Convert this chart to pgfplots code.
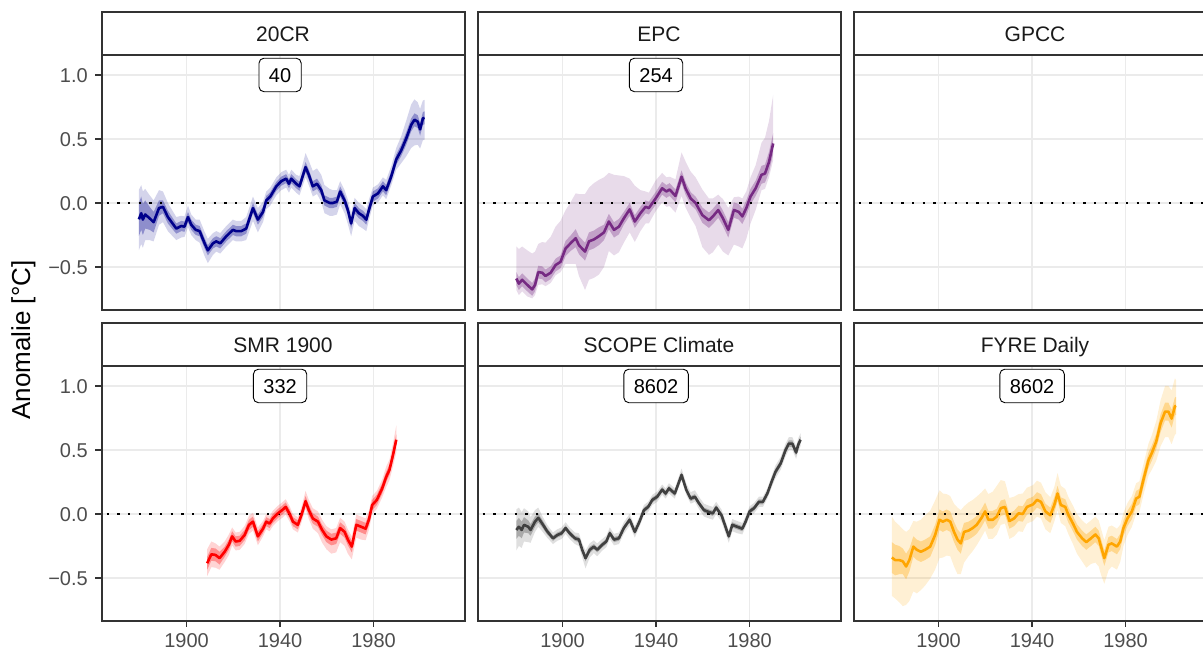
\documentclass[border=0pt]{standalone}
\usepackage{pgfplots}
\pgfplotsset{compat=1.18}
\usepgfplotslibrary{fillbetween}
\usepackage{pgfplotstable}
\usepackage{fontspec}
\setmainfont{Liberation Sans}

\definecolor{c20}{RGB}{0,0,139}
\definecolor{cepc}{RGB}{118,42,131}
\definecolor{csmr}{RGB}{255,0,0}
\definecolor{cscope}{RGB}{64,64,64}
\definecolor{cfyre}{RGB}{255,165,0}
\definecolor{g20}{RGB}{51,51,51}
\definecolor{g30}{RGB}{77,77,77}
\definecolor{g92}{RGB}{235,235,235}
\definecolor{g10}{RGB}{26,26,26}

% columns: x = year, m = mean, a = inner half width, u/d = outer band above/below
\pgfplotstableread{
x m a u d
1879.6 -0.128 0.13 0.23 0.24
1880.6 -0.08 0.13 0.22 0.24
1881.3 -0.13 0.12 0.22 0.22
1882.3 -0.09 0.11 0.2 0.2
1884.2 -0.12 0.09 0.18 0.17
1885.9 -0.15 0.08 0.17 0.15
1888.2 -0.04 0.06 0.14 0.13
1889.9 -0.03 0.05 0.12 0.12
1892.0 -0.11 0.05 0.11 0.11
1895.6 -0.20 0.04 0.09 0.09
1897.7 -0.18 0.04 0.08 0.09
1899.1 -0.185 0.04 0.08 0.08
1900.6 -0.11 0.04 0.09 0.08
1902.0 -0.17 0.04 0.08 0.08
1903.9 -0.21 0.04 0.08 0.08
1905.6 -0.22 0.04 0.09 0.09
1907.7 -0.315 0.04 0.09 0.1
1909.1 -0.37 0.04 0.09 0.1
1911.3 -0.315 0.04 0.08 0.09
1912.7 -0.30 0.04 0.08 0.08
1914.4 -0.315 0.04 0.08 0.08
1917.0 -0.26 0.04 0.08 0.08
1919.8 -0.21 0.04 0.08 0.08
1921.2 -0.22 0.04 0.08 0.08
1923.4 -0.22 0.04 0.08 0.08
1925.5 -0.20 0.04 0.09 0.09
1928.4 -0.04 0.04 0.09 0.1
1930.5 -0.13 0.04 0.09 0.1
1932.7 -0.07 0.04 0.08 0.08
1934.1 0.02 0.035 0.07 0.07
1935.8 0.05 0.035 0.07 0.07
1938.4 0.13 0.035 0.07 0.07
1940.5 0.17 0.035 0.07 0.07
1942.6 0.19 0.035 0.07 0.07
1943.8 0.15 0.035 0.07 0.07
1944.8 0.19 0.035 0.07 0.07
1946.9 0.15 0.035 0.07 0.07
1948.3 0.13 0.035 0.08 0.07
1950.9 0.28 0.04 0.11 0.08
1952.3 0.22 0.04 0.11 0.08
1954.0 0.13 0.04 0.12 0.08
1955.8 0.15 0.04 0.12 0.08
1957.6 0.10 0.04 0.12 0.09
1959.0 0.02 0.04 0.12 0.1
1961.2 0.00 0.04 0.11 0.1
1962.6 0.00 0.04 0.1 0.1
1964.3 0.01 0.04 0.09 0.1
1965.7 0.09 0.04 0.08 0.1
1967.6 0.02 0.04 0.08 0.1
1969.0 -0.055 0.04 0.08 0.11
1970.4 -0.16 0.04 0.08 0.1
1971.9 -0.04 0.04 0.08 0.1
1973.7 -0.08 0.04 0.08 0.1
1975.4 -0.10 0.04 0.08 0.1
1976.9 -0.13 0.04 0.08 0.09
1978.0 -0.055 0.04 0.08 0.08
1979.7 0.05 0.04 0.07 0.07
1981.9 0.075 0.04 0.07 0.07
1984.0 0.13 0.04 0.07 0.07
1985.4 0.10 0.04 0.08 0.07
1987.6 0.21 0.04 0.08 0.07
1989.7 0.34 0.04 0.09 0.08
1991.8 0.41 0.045 0.11 0.1
1994.0 0.505 0.05 0.14 0.14
1996.1 0.61 0.05 0.16 0.18
1997.5 0.65 0.05 0.16 0.2
1998.9 0.635 0.05 0.15 0.18
1999.9 0.575 0.05 0.16 0.15
2001.1 0.66 0.05 0.14 0.17
2001.8 0.665 0.05 0.14 0.17
}\tabTwenty

\pgfplotstableread{
x m a u d
1880.2 -0.59 0.05 0.25 0.09
1881.3 -0.63 0.05 0.27 0.09
1882.7 -0.60 0.05 0.26 0.09
1884.9 -0.64 0.05 0.27 0.09
1887.0 -0.675 0.05 0.28 0.07
1888.2 -0.64 0.05 0.26 0.08
1889.6 -0.54 0.05 0.22 0.1
1891.3 -0.545 0.05 0.24 0.09
1892.7 -0.57 0.05 0.26 0.08
1894.9 -0.545 0.05 0.28 0.08
1897.0 -0.485 0.05 0.3 0.08
1899.1 -0.46 0.05 0.32 0.08
1901.3 -0.355 0.06 0.3 0.12
1903.4 -0.315 0.06 0.32 0.16
1905.6 -0.275 0.07 0.35 0.2
1907.0 -0.33 0.07 0.4 0.24
1909.6 -0.38 0.07 0.45 0.3
1911.3 -0.30 0.07 0.42 0.3
1913.4 -0.285 0.07 0.44 0.3
1915.5 -0.26 0.07 0.44 0.3
1917.7 -0.23 0.06 0.43 0.27
1919.8 -0.145 0.06 0.38 0.23
1922.0 -0.21 0.06 0.43 0.2
1924.1 -0.185 0.06 0.4 0.2
1926.2 -0.12 0.05 0.33 0.19
1928.7 -0.05 0.05 0.24 0.18
1930.9 -0.145 0.05 0.28 0.16
1933.3 -0.08 0.05 0.18 0.14
1935.5 -0.03 0.05 0.12 0.13
1936.9 -0.04 0.05 0.12 0.12
1939.8 0.035 0.05 0.14 0.1
1942.6 0.115 0.05 0.12 0.11
1944.4 0.09 0.05 0.11 0.12
1945.8 0.105 0.05 0.1 0.13
1948.3 0.055 0.05 0.13 0.13
1950.9 0.205 0.05 0.19 0.15
1952.6 0.115 0.05 0.21 0.15
1954.8 0.035 0.05 0.21 0.15
1956.9 0.0 0.05 0.2 0.18
1959.8 -0.095 0.06 0.2 0.25
1962.6 -0.135 0.06 0.17 0.27
1964.3 -0.105 0.06 0.14 0.28
1966.6 -0.055 0.06 0.12 0.27
1968.6 -0.12 0.06 0.15 0.26
1970.9 -0.21 0.06 0.17 0.2
1973.3 -0.055 0.06 0.1 0.27
1975.4 -0.07 0.06 0.12 0.27
1976.9 -0.105 0.06 0.14 0.25
1978.6 -0.04 0.06 0.13 0.24
1980.4 0.05 0.06 0.15 0.21
1982.6 0.115 0.06 0.18 0.17
1985.1 0.22 0.07 0.25 0.12
1986.6 0.23 0.07 0.28 0.12
1988.3 0.32 0.08 0.32 0.12
1990.1 0.465 0.08 0.38 0.13
}\tabEPC

\pgfplotstableread{
x m a u d
1908.8 -0.385 0.05 0.11 0.1
1910.6 -0.315 0.05 0.1 0.1
1912.4 -0.32 0.05 0.09 0.1
1914.1 -0.345 0.05 0.09 0.09
1916.3 -0.295 0.04 0.08 0.08
1918.1 -0.24 0.04 0.08 0.08
1919.5 -0.175 0.04 0.07 0.07
1921.0 -0.215 0.04 0.07 0.07
1922.7 -0.21 0.04 0.07 0.07
1924.8 -0.165 0.04 0.07 0.07
1926.7 -0.085 0.04 0.07 0.07
1928.4 -0.06 0.04 0.07 0.07
1930.5 -0.175 0.04 0.07 0.07
1932.7 -0.115 0.035 0.06 0.06
1934.1 -0.06 0.035 0.06 0.06
1935.5 -0.075 0.035 0.06 0.06
1936.9 -0.035 0.035 0.06 0.06
1939.1 0.005 0.035 0.06 0.06
1940.9 0.03 0.035 0.06 0.06
1942.4 0.055 0.035 0.06 0.06
1944.1 0.0 0.035 0.06 0.06
1945.5 -0.06 0.035 0.06 0.06
1947.6 -0.085 0.035 0.06 0.06
1949.1 -0.01 0.035 0.06 0.06
1950.9 0.1 0.04 0.08 0.06
1952.3 0.03 0.04 0.08 0.07
1954.0 -0.035 0.04 0.08 0.08
1956.2 -0.06 0.04 0.08 0.09
1958.0 -0.125 0.04 0.08 0.1
1959.8 -0.175 0.045 0.08 0.1
1961.9 -0.2 0.045 0.08 0.11
1964.0 -0.19 0.045 0.08 0.11
1965.7 -0.11 0.045 0.08 0.11
1967.6 -0.14 0.045 0.08 0.11
1969.0 -0.2 0.045 0.08 0.11
1970.7 -0.255 0.045 0.08 0.1
1972.6 -0.085 0.045 0.08 0.1
1974.7 -0.1 0.045 0.08 0.1
1976.6 -0.115 0.045 0.08 0.09
1978.0 -0.045 0.04 0.07 0.08
1979.4 0.07 0.04 0.07 0.07
1981.4 0.11 0.04 0.07 0.07
1983.7 0.2 0.04 0.07 0.07
1985.4 0.29 0.04 0.08 0.08
1986.8 0.345 0.04 0.08 0.08
1988.3 0.46 0.04 0.09 0.09
1989.7 0.58 0.04 0.11 0.1
}\tabSMR

\pgfplotstableread{
x m a u d
1880.2 -0.125 0.07 0.16 0.16
1881.3 -0.1 0.07 0.15 0.15
1882.5 -0.125 0.065 0.14 0.14
1883.5 -0.085 0.06 0.13 0.13
1885.3 -0.1 0.05 0.12 0.12
1886.3 -0.125 0.045 0.1 0.1
1888.2 -0.06 0.04 0.09 0.08
1889.6 -0.03 0.035 0.08 0.07
1891.3 -0.075 0.03 0.06 0.06
1893.4 -0.135 0.025 0.05 0.05
1895.9 -0.19 0.02 0.045 0.045
1897.7 -0.165 0.02 0.045 0.045
1899.6 -0.15 0.02 0.045 0.045
1901.3 -0.11 0.02 0.045 0.045
1903.0 -0.15 0.02 0.045 0.045
1905.3 -0.19 0.02 0.045 0.045
1907.0 -0.2 0.02 0.05 0.05
1908.4 -0.28 0.02 0.05 0.06
1909.8 -0.345 0.025 0.06 0.08
1911.6 -0.28 0.025 0.05 0.06
1913.4 -0.255 0.02 0.05 0.05
1914.8 -0.28 0.02 0.05 0.05
1917.0 -0.24 0.02 0.045 0.045
1918.7 -0.215 0.02 0.045 0.045
1920.2 -0.15 0.02 0.045 0.045
1922.0 -0.2 0.02 0.045 0.045
1924.1 -0.19 0.02 0.045 0.045
1926.2 -0.11 0.02 0.045 0.045
1928.7 -0.045 0.02 0.045 0.045
1930.9 -0.14 0.02 0.045 0.045
1932.9 -0.06 0.02 0.04 0.04
1934.8 0.03 0.02 0.04 0.04
1936.6 0.055 0.02 0.04 0.04
1938.4 0.11 0.02 0.04 0.04
1940.5 0.135 0.02 0.04 0.04
1942.6 0.19 0.02 0.04 0.04
1944.1 0.16 0.02 0.04 0.04
1945.5 0.2 0.02 0.04 0.04
1948.0 0.16 0.02 0.04 0.04
1950.9 0.305 0.02 0.05 0.04
1952.9 0.19 0.02 0.05 0.04
1954.8 0.12 0.02 0.05 0.04
1956.6 0.135 0.02 0.05 0.04
1958.3 0.085 0.02 0.05 0.045
1960.5 0.03 0.02 0.05 0.05
1962.6 0.015 0.02 0.05 0.05
1964.3 0.005 0.02 0.05 0.05
1965.7 0.05 0.02 0.045 0.05
1968.0 -0.01 0.02 0.045 0.05
1969.7 -0.1 0.02 0.045 0.05
1971.1 -0.175 0.02 0.045 0.05
1972.6 -0.085 0.02 0.045 0.05
1974.7 -0.1 0.02 0.045 0.05
1976.9 -0.115 0.02 0.045 0.045
1978.3 -0.06 0.02 0.04 0.04
1980.0 0.02 0.02 0.04 0.04
1981.9 0.045 0.02 0.04 0.04
1984.0 0.095 0.02 0.04 0.04
1985.7 0.095 0.02 0.04 0.04
1987.6 0.16 0.02 0.04 0.04
1989.7 0.265 0.02 0.045 0.045
1991.1 0.33 0.025 0.05 0.05
1993.3 0.395 0.025 0.05 0.05
1995.4 0.5 0.025 0.05 0.05
1996.8 0.55 0.025 0.05 0.05
1998.3 0.55 0.025 0.05 0.05
1999.9 0.48 0.025 0.05 0.05
2000.8 0.54 0.025 0.05 0.05
2001.8 0.58 0.025 0.05 0.05
}\tabSCOPE

\pgfplotstableread{
x m a u d
1880.0 -0.34 0.12 0.32 0.3
1881.4 -0.36 0.12 0.3 0.3
1883.2 -0.36 0.11 0.27 0.33
1884.7 -0.37 0.1 0.25 0.35
1886.1 -0.41 0.1 0.27 0.3
1887.5 -0.36 0.09 0.24 0.32
1889.2 -0.255 0.08 0.2 0.35
1890.7 -0.28 0.08 0.22 0.34
1892.4 -0.295 0.08 0.25 0.3
1894.2 -0.28 0.08 0.27 0.28
1896.4 -0.255 0.08 0.28 0.25
1898.5 -0.165 0.08 0.27 0.27
1900.4 -0.045 0.08 0.23 0.3
1901.8 -0.06 0.08 0.22 0.28
1903.5 -0.045 0.08 0.2 0.28
1905.0 -0.06 0.08 0.2 0.27
1906.6 -0.14 0.08 0.22 0.27
1908.1 -0.2 0.08 0.25 0.27
1909.5 -0.23 0.08 0.26 0.24
1910.9 -0.14 0.07 0.2 0.24
1912.8 -0.13 0.07 0.22 0.2
1914.6 -0.11 0.07 0.22 0.18
1916.3 -0.085 0.07 0.22 0.16
1918.4 -0.03 0.07 0.2 0.15
1919.9 0.02 0.07 0.18 0.15
1921.3 -0.045 0.07 0.2 0.15
1923.2 -0.045 0.07 0.22 0.15
1924.9 -0.02 0.06 0.24 0.14
1926.6 0.045 0.06 0.22 0.13
1928.4 0.055 0.06 0.2 0.13
1930.3 -0.055 0.06 0.18 0.14
1932.3 -0.035 0.06 0.17 0.14
1934.2 0.005 0.06 0.15 0.14
1936.0 0.0 0.06 0.16 0.14
1937.8 0.055 0.06 0.15 0.13
1940.4 0.075 0.06 0.15 0.13
1942.1 0.11 0.06 0.15 0.13
1943.8 0.095 0.06 0.15 0.13
1945.7 0.02 0.06 0.15 0.14
1947.8 -0.01 0.06 0.14 0.14
1949.5 0.07 0.06 0.14 0.13
1950.9 0.16 0.06 0.16 0.13
1952.3 0.07 0.06 0.15 0.14
1954.2 0.055 0.06 0.14 0.15
1955.6 -0.01 0.06 0.14 0.15
1957.5 -0.075 0.06 0.14 0.16
1959.2 -0.14 0.06 0.14 0.17
1961.4 -0.19 0.06 0.14 0.18
1963.2 -0.22 0.06 0.14 0.2
1965.2 -0.19 0.06 0.14 0.2
1967.1 -0.16 0.06 0.14 0.22
1968.5 -0.19 0.06 0.14 0.22
1969.5 -0.255 0.06 0.14 0.22
1970.9 -0.345 0.06 0.14 0.2
1972.7 -0.24 0.06 0.14 0.2
1974.1 -0.23 0.06 0.14 0.18
1976.3 -0.255 0.06 0.14 0.18
1977.7 -0.215 0.06 0.13 0.16
1979.1 -0.11 0.06 0.12 0.14
1980.8 -0.035 0.06 0.12 0.13
1982.7 0.02 0.06 0.12 0.12
1984.5 0.12 0.06 0.12 0.12
1985.9 0.135 0.06 0.12 0.12
1987.6 0.265 0.06 0.12 0.12
1989.8 0.42 0.06 0.13 0.12
1991.2 0.475 0.06 0.14 0.13
1993.1 0.565 0.06 0.16 0.15
1995.0 0.71 0.07 0.18 0.18
1996.9 0.8 0.07 0.2 0.2
1998.3 0.8 0.07 0.2 0.2
1999.7 0.745 0.07 0.22 0.2
2001.1 0.84 0.07 0.22 0.22
2001.6 0.845 0.07 0.2 0.22
}\tabFYRE

\pgfplotsset{
  panel/.style={
    anchor=south west, scale only axis, width=363pt, height=254.5pt,
    xmin=1863.6, xmax=2018.9, ymin=-0.836, ymax=1.152,
    xtick={1900,1940,1980}, ytick={-0.5,0,0.5,1},
    xmajorgrids, ymajorgrids,
    major grid style={draw=g92, line width=1.5pt},
    axis line style={draw=g20, line width=2pt},
    tick align=outside, major tick length=6pt,
    xtick pos=bottom, ytick pos=left,
    xticklabels={}, yticklabels={},
    xtick style={draw=none}, ytick style={draw=none},
    ticklabel style={font=\fontsize{20}{24}\selectfont, text=g30},
  },
  ylab/.style={
    ytick style={draw=g20, line width=1.8pt},
    yticklabels={−0.5,0.0,0.5,1.0},
    yticklabel style={anchor=east, inner sep=0pt, text height=14.3pt, text depth=0pt, xshift=-7.5pt},
  },
  xlab/.style={
    xtick style={draw=g20, line width=1.8pt},
    xticklabels={1900,1940,1980},
    xticklabel style={anchor=north, inner sep=0pt, text height=14.3pt, text depth=0pt, yshift=-6pt},
  },
}

\newcommand{\ribbons}[3]{%
  \addplot[name path=#3oU, draw=none] table[x=x, y expr=\thisrow{m}+\thisrow{u}] {#1};
  \addplot[name path=#3oL, draw=none] table[x=x, y expr=\thisrow{m}-\thisrow{d}] {#1};
  \addplot[fill=#2, fill opacity=0.17, draw=none] fill between[of=#3oU and #3oL];
  \addplot[name path=#3iU, draw=none] table[x=x, y expr=\thisrow{m}+\thisrow{a}] {#1};
  \addplot[name path=#3iL, draw=none] table[x=x, y expr=\thisrow{m}-\thisrow{a}] {#1};
  \addplot[fill=#2, fill opacity=0.33, draw=none] fill between[of=#3iU and #3iL];
}
\newcommand{\zeroline}{%
  \addplot[black, line width=2.3pt, dash pattern=on 2.3pt off 8.4pt, dash phase=-5pt] coordinates {(1863.6,0) (2018.9,0)};
}
\newcommand{\meanline}[2]{%
  \addplot[#2, line width=2.6pt, line join=round] table[x=x, y=m] {#1};
}
\newcommand{\nlabel}[1]{%
  \node[draw=black, fill=white, rounded corners=5pt, line width=0.9pt,
        font=\fontsize{20}{24}\selectfont, text height=14.5pt, text depth=0pt,
        inner xsep=10pt, inner ysep=9.5pt] at (axis cs:1940,1) {#1};
}
\newcommand{\strip}[3]{%
  \draw[fill=white, draw=g20, line width=2pt] (#1pt,#2pt) rectangle ++(363pt,43pt);
  \node[font=\fontsize{21}{25}\selectfont, text=g10, text height=15pt, text depth=0pt, inner sep=0pt]
     at ({#1pt+181.5pt},{#2pt+21.5pt}) {#3};
}

\begin{document}
\begin{tikzpicture}

% top row
\begin{axis}[panel, ylab, at={(101.5pt,340pt)}]
  \ribbons{\tabTwenty}{c20}{tw}
  \zeroline
  \meanline{\tabTwenty}{c20}
  \nlabel{40}
\end{axis}
\begin{axis}[panel, at={(477.5pt,340pt)}]
  \ribbons{\tabEPC}{cepc}{ep}
  \zeroline
  \meanline{\tabEPC}{cepc}
  \nlabel{254}
\end{axis}
\begin{axis}[panel, at={(853.5pt,340pt)}]
  \zeroline
\end{axis}

% bottom row
\begin{axis}[panel, ylab, xlab, at={(101.5pt,29pt)}]
  \ribbons{\tabSMR}{csmr}{sm}
  \zeroline
  \meanline{\tabSMR}{csmr}
  \nlabel{332}
\end{axis}
\begin{axis}[panel, xlab, at={(477.5pt,29pt)}]
  \ribbons{\tabSCOPE}{cscope}{sc}
  \zeroline
  \meanline{\tabSCOPE}{cscope}
  \nlabel{8602}
\end{axis}
\begin{axis}[panel, xlab, at={(853.5pt,29pt)}]
  \ribbons{\tabFYRE}{cfyre}{fy}
  \zeroline
  \meanline{\tabFYRE}{cfyre}
  \nlabel{8602}
\end{axis}

\strip{101.5}{594.5}{20CR}
\strip{477.5}{594.5}{EPC}
\strip{853.5}{594.5}{GPCC}
\strip{101.5}{283.5}{SMR 1900}
\strip{477.5}{283.5}{SCOPE Climate}
\strip{853.5}{283.5}{FYRE Daily}

\node[rotate=90, font=\fontsize{26}{31}\selectfont, text=black, inner sep=0pt] at (23.5pt,310pt) {Anomalie [°C]};
\pgfresetboundingbox
\path[use as bounding box] (0pt,0pt) rectangle (1203pt,650pt);
\end{tikzpicture}
\end{document}
